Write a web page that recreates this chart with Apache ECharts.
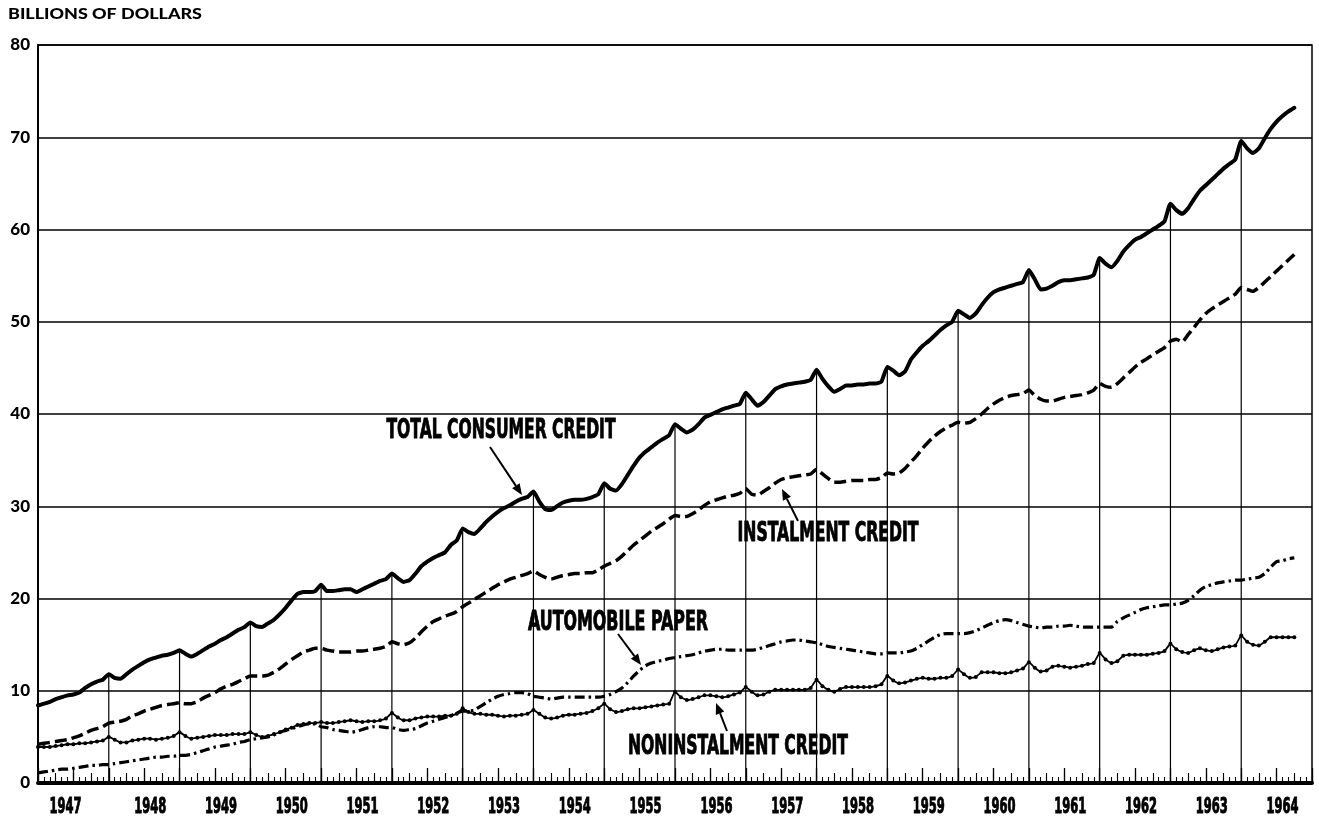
<!DOCTYPE html>
<html>
<head>
<meta charset="utf-8">
<title>Consumer credit 1947-1964</title>
<script src="https://cdn.jsdelivr.net/npm/echarts@6/dist/echarts.min.js"></script>
<style>
  html, body { margin: 0; padding: 0; background: #fff; }
  #chart { width: 1319px; height: 821px; }
</style>
</head>
<body>
<div id="chart"></div>
<script>
// month index 0 = Dec 1946, 12 = Dec 1947, ... last = Sep 1964
const firstYear = 1947
const yTicks = [0, 10, 20, 30, 40, 50, 60, 70, 80]
const years = [1947, 1948, 1949, 1950, 1951, 1952, 1953, 1954, 1955, 1956, 1957, 1958, 1959, 1960, 1961, 1962, 1963, 1964]

const totalCredit = [
  8.4,
  8.6, 8.8, 9.1, 9.3, 9.5, 9.6, 9.8, 10.3, 10.7, 11.0, 11.2, 11.8,      // 1947
  11.4, 11.3, 11.8, 12.3, 12.7, 13.1, 13.4, 13.6, 13.8, 13.9, 14.1, 14.4, // 1948
  14.0, 13.7, 14.0, 14.4, 14.8, 15.1, 15.5, 15.8, 16.2, 16.6, 16.9, 17.4, // 1949
  17.0, 16.9, 17.3, 17.7, 18.3, 19.0, 19.8, 20.5, 20.7, 20.7, 20.8, 21.5, // 1950
  20.8, 20.8, 20.9, 21.0, 21.0, 20.7, 21.0, 21.3, 21.6, 21.9, 22.1, 22.7, // 1951
  22.2, 21.8, 22.0, 22.7, 23.5, 24.0, 24.4, 24.7, 25.0, 25.8, 26.3, 27.6, // 1952
  27.2, 27.0, 27.6, 28.3, 28.9, 29.4, 29.8, 30.1, 30.5, 30.8, 31.0, 31.6, // 1953
  30.5, 29.7, 29.6, 30.0, 30.4, 30.6, 30.7, 30.7, 30.8, 31.0, 31.3, 32.5, // 1954
  31.9, 31.7, 32.4, 33.4, 34.4, 35.3, 35.9, 36.4, 36.9, 37.3, 37.7, 38.9, // 1955
  38.4, 38.0, 38.3, 38.9, 39.6, 39.9, 40.2, 40.5, 40.7, 40.9, 41.1, 42.3, // 1956
  41.6, 40.9, 41.3, 42.0, 42.7, 43.0, 43.2, 43.3, 43.4, 43.5, 43.7, 44.8, // 1957
  43.8, 43.0, 42.4, 42.7, 43.1, 43.1, 43.2, 43.2, 43.3, 43.3, 43.5, 45.1, // 1958
  44.7, 44.2, 44.6, 45.9, 46.7, 47.4, 47.9, 48.5, 49.1, 49.6, 50.0, 51.2, // 1959
  50.8, 50.4, 50.9, 51.8, 52.6, 53.2, 53.5, 53.7, 53.9, 54.1, 54.3, 55.6, // 1960
  54.6, 53.5, 53.6, 53.9, 54.3, 54.5, 54.5, 54.6, 54.7, 54.8, 55.1, 56.9, // 1961
  56.3, 55.9, 56.6, 57.6, 58.3, 58.9, 59.2, 59.6, 60.0, 60.4, 60.9, 62.8, // 1962
  62.1, 61.7, 62.3, 63.3, 64.2, 64.8, 65.4, 66.0, 66.6, 67.1, 67.6, 69.6, // 1963
  68.8, 68.3, 68.8, 69.9, 70.9, 71.7, 72.3, 72.8, 73.2                    // 1964
]

const instalmentCredit = [
  4.2,
  4.3, 4.4, 4.5, 4.6, 4.7, 4.9, 5.1, 5.4, 5.7, 5.9, 6.1, 6.5,
  6.6, 6.7, 6.9, 7.3, 7.5, 7.8, 8.0, 8.2, 8.4, 8.5, 8.6, 8.7,
  8.6, 8.6, 8.8, 9.2, 9.5, 9.8, 10.2, 10.5, 10.7, 11.0, 11.3, 11.6,
  11.6, 11.6, 11.7, 12.0, 12.4, 12.9, 13.4, 13.8, 14.2, 14.4, 14.6, 14.6,
  14.4, 14.3, 14.2, 14.2, 14.2, 14.3, 14.3, 14.4, 14.5, 14.6, 14.8, 15.3,
  15.1, 15.0, 15.2, 15.7, 16.4, 17.0, 17.5, 17.8, 18.1, 18.3, 18.6, 19.1,
  19.5, 19.9, 20.3, 20.7, 21.1, 21.5, 21.8, 22.1, 22.3, 22.5, 22.7, 23.0,
  22.6, 22.3, 22.1, 22.3, 22.5, 22.6, 22.7, 22.7, 22.8, 22.8, 23.1, 23.5,
  23.8, 24.1, 24.6, 25.2, 25.8, 26.3, 26.8, 27.3, 27.7, 28.1, 28.6, 29.0,
  28.9, 28.9, 29.2, 29.6, 30.1, 30.5, 30.7, 30.9, 31.1, 31.2, 31.4, 31.9,
  31.3, 31.2, 31.6, 32.0, 32.5, 32.9, 33.1, 33.2, 33.3, 33.4, 33.5, 34.0,
  33.5, 33.0, 32.6, 32.6, 32.7, 32.8, 32.8, 32.8, 32.9, 32.9, 33.1, 33.6,
  33.5, 33.6, 34.1, 34.8, 35.5, 36.3, 37.0, 37.6, 38.1, 38.5, 38.8, 39.1,
  39.0, 39.1, 39.5, 40.0, 40.6, 41.1, 41.5, 41.8, 42.0, 42.1, 42.2, 42.6,
  42.0, 41.6, 41.4, 41.4, 41.6, 41.8, 41.9, 42.0, 42.1, 42.3, 42.6, 43.3,
  43.0, 42.9, 43.3, 43.9, 44.5, 45.1, 45.6, 46.0, 46.4, 46.8, 47.2, 47.9,
  48.1, 47.8, 48.6, 49.4, 50.2, 50.9, 51.4, 51.8, 52.2, 52.6, 53.0, 53.7,
  53.5, 53.3, 53.7, 54.3, 54.9, 55.5, 56.1, 56.7, 57.3
]

const automobilePaper = [
  1.1,
  1.2, 1.3, 1.4, 1.5, 1.5, 1.6, 1.7, 1.8, 1.9, 1.9, 2.0, 2.0,
  2.1, 2.2, 2.3, 2.4, 2.5, 2.6, 2.7, 2.8, 2.8, 2.9, 2.9, 3.0,
  3.0, 3.1, 3.3, 3.5, 3.7, 3.9, 4.0, 4.1, 4.2, 4.4, 4.5, 4.7,
  4.8, 4.9, 5.0, 5.2, 5.5, 5.7, 5.9, 6.1, 6.3, 6.4, 6.4, 6.1,
  6.0, 5.8, 5.7, 5.6, 5.5, 5.6, 5.8, 6.0, 6.1, 6.1, 6.0, 6.0,
  5.8, 5.7, 5.8, 5.9, 6.2, 6.5, 6.7, 6.9, 7.1, 7.3, 7.6, 7.8,
  7.8, 7.9, 8.3, 8.7, 9.1, 9.4, 9.6, 9.7, 9.8, 9.8, 9.7, 9.4,
  9.3, 9.2, 9.1, 9.2, 9.3, 9.3, 9.3, 9.3, 9.3, 9.3, 9.3, 9.4,
  9.6, 9.9, 10.3, 10.9, 11.6, 12.2, 12.7, 13.0, 13.2, 13.3, 13.5, 13.6,
  13.7, 13.8, 13.9, 14.1, 14.3, 14.4, 14.5, 14.5, 14.4, 14.4, 14.4, 14.4,
  14.4, 14.5, 14.7, 14.9, 15.1, 15.3, 15.4, 15.5, 15.5, 15.4, 15.3, 15.2,
  15.0, 14.8, 14.7, 14.6, 14.5, 14.4, 14.3, 14.2, 14.1, 14.0, 14.0, 14.1,
  14.1, 14.1, 14.2, 14.3, 14.6, 15.0, 15.4, 15.8, 16.1, 16.2, 16.2, 16.2,
  16.2, 16.3, 16.5, 16.8, 17.1, 17.4, 17.6, 17.7, 17.6, 17.4, 17.2, 17.0,
  16.9, 16.8, 16.9, 16.9, 17.0, 17.0, 17.1, 17.0, 16.9, 16.9, 16.9, 16.9,
  16.9, 16.9, 17.5, 17.9, 18.2, 18.5, 18.8, 19.0, 19.1, 19.2, 19.3, 19.3,
  19.4, 19.5, 19.8, 20.3, 20.9, 21.3, 21.5, 21.7, 21.8, 21.9, 22.0, 22.0,
  22.1, 22.2, 22.3, 22.7, 23.4, 24.0, 24.1, 24.3, 24.4
]

const noninstalmentCredit = [
  3.9,
  3.9, 3.9, 4.0, 4.1, 4.2, 4.2, 4.3, 4.3, 4.4, 4.5, 4.6, 5.0,
  4.7, 4.4, 4.4, 4.6, 4.7, 4.8, 4.8, 4.7, 4.8, 4.9, 5.1, 5.5,
  5.1, 4.8, 4.9, 5.0, 5.1, 5.2, 5.2, 5.2, 5.3, 5.3, 5.3, 5.5,
  5.2, 5.0, 5.1, 5.3, 5.5, 5.8, 6.0, 6.3, 6.4, 6.5, 6.5, 6.6,
  6.5, 6.5, 6.6, 6.7, 6.8, 6.7, 6.6, 6.7, 6.7, 6.8, 7.0, 7.6,
  7.1, 6.8, 6.8, 7.0, 7.1, 7.2, 7.2, 7.2, 7.3, 7.3, 7.5, 8.1,
  7.7, 7.5, 7.5, 7.4, 7.4, 7.3, 7.2, 7.3, 7.3, 7.4, 7.5, 7.9,
  7.5, 7.1, 7.0, 7.1, 7.3, 7.4, 7.4, 7.5, 7.6, 7.8, 8.1, 8.6,
  8.0, 7.7, 7.8, 8.0, 8.1, 8.1, 8.2, 8.3, 8.4, 8.5, 8.6, 9.9,
  9.3, 9.0, 9.1, 9.3, 9.5, 9.5, 9.4, 9.3, 9.4, 9.6, 9.8, 10.4,
  9.9, 9.5, 9.6, 9.9, 10.1, 10.1, 10.1, 10.1, 10.1, 10.1, 10.3, 11.2,
  10.5, 10.1, 9.9, 10.2, 10.4, 10.4, 10.4, 10.4, 10.4, 10.5, 10.7, 11.6,
  11.1, 10.8, 10.9, 11.1, 11.3, 11.4, 11.3, 11.3, 11.4, 11.4, 11.6, 12.3,
  11.8, 11.4, 11.5, 12.0, 12.0, 12.0, 11.9, 11.9, 12.0, 12.2, 12.4, 13.1,
  12.5, 12.1, 12.2, 12.6, 12.7, 12.6, 12.5, 12.6, 12.7, 12.9, 13.0, 14.1,
  13.4, 13.0, 13.2, 13.8, 13.9, 13.9, 13.9, 13.9, 14.0, 14.1, 14.3, 15.1,
  14.5, 14.2, 14.1, 14.4, 14.6, 14.4, 14.3, 14.5, 14.7, 14.8, 14.9, 16.0,
  15.3, 15.0, 14.9, 15.3, 15.8, 15.8, 15.8, 15.8, 15.8
]

// year-end months that get a vertical rule up to the total line
const yearEnds = [12, 24, 36, 48, 60, 72, 84, 96, 108, 120, 132, 144, 156, 168, 180, 192, 204]

const GEO = 'Lato, "DejaVu Sans", sans-serif'
const NARROW = '"Liberation Sans Narrow", "DejaVu Sans Condensed", "Roboto Condensed", sans-serif'

const toPairs = arr => arr.map((v, i) => [i, v])

// measure text so condensed labels can be squeezed to the reference width
const measureCtx = document.createElement('canvas').getContext('2d')
const textWidth = (text, font) => { measureCtx.font = font; return measureCtx.measureText(text).width }

const label = (text, cx, cy, targetW, size) => {
  const font = 'bold ' + size + 'px ' + NARROW
  const w = textWidth(text, font)
  return {
    type: 'text', x: cx, y: cy, scaleX: targetW / w, z: 10,
    style: { text, font, fill: '#000', stroke: '#000', lineWidth: 0.9, align: 'center', verticalAlign: 'middle' }
  }
}

const arrow = (x1, y1, x2, y2) => {
  const a = Math.atan2(y2 - y1, x2 - x1), L = 11, W = 4.5
  const bx = x2 - L * Math.cos(a), by = y2 - L * Math.sin(a)
  return [
    { type: 'line', z: 10, shape: { x1, y1, x2: bx, y2: by }, style: { stroke: '#000', lineWidth: 2 } },
    { type: 'polygon', z: 10, shape: { points: [[x2, y2], [bx + W * Math.sin(a), by - W * Math.cos(a)], [bx - W * Math.sin(a), by + W * Math.cos(a)]] }, style: { fill: '#000' } }
  ]
}

const yearFont = 'bold 22px ' + NARROW
const yearScale = 32 / textWidth('1947', yearFont)
const titleFont = '900 15px ' + GEO
const titleScale = 194 / textWidth('BILLIONS OF DOLLARS', titleFont)

const chart = echarts.init(document.getElementById('chart'))

const option = {
  animation: false,
  backgroundColor: '#fff',
  grid: { left: 38, right: 7, top: 45, bottom: 38, show: true, borderColor: '#000', borderWidth: 1.5 },
  xAxis: [
    {
      type: 'value', min: 0, max: 216, interval: 6,
      axisLine: { show: true, lineStyle: { color: '#000', width: 4 } },
      axisTick: { show: true, inside: true, length: 15, lineStyle: { color: '#000', width: 1.3 } },
      minorTick: { show: true, splitNumber: 6, length: 6, lineStyle: { color: '#000', width: 1.1 } },
      splitLine: { show: false },
      axisLabel: { show: false }
    },
    {
      type: 'value', min: 0, max: 216, interval: 3, position: 'bottom',
      axisLine: { show: false },
      axisTick: { show: true, inside: true, length: 10, lineStyle: { color: '#000', width: 1.1 } },
      splitLine: { show: false },
      axisLabel: { show: false }
    }
  ],
  yAxis: {
    type: 'value', min: yTicks[0], max: yTicks[yTicks.length - 1], interval: 10,
    axisLine: { show: true, lineStyle: { color: '#000', width: 2 } },
    axisTick: { show: false },
    splitLine: { show: true, lineStyle: { color: '#000', width: 1.5 } },
    axisLabel: { margin: 8, color: '#000', fontFamily: GEO, fontWeight: 900, fontSize: 17 }
  },
  graphic: [
    { type: 'text', x: 8, y: 7, z: 10, scaleX: titleScale, style: { text: 'BILLIONS OF DOLLARS', font: titleFont, fill: '#000' } },
    label('TOTAL CONSUMER CREDIT', 501, 431, 229, 27),
    label('INSTALMENT CREDIT', 828, 534, 181, 27),
    label('AUTOMOBILE PAPER', 618, 623, 180, 27),
    label('NONINSTALMENT CREDIT', 738, 747, 220, 27),
    ...arrow(490, 447, 522, 495),
    ...arrow(798, 521, 782, 489),
    ...arrow(618, 634, 641, 665),
    ...arrow(727, 731, 716, 703)
  ],
  series: [
    {
      name: 'year ends', type: 'custom', z: 1,
      data: yearEnds.map(i => [i, totalCredit[i]]),
      renderItem: (params, api) => {
        const top = api.coord([api.value(0), api.value(1)])
        const bottom = api.coord([api.value(0), 0])
        return { type: 'line', shape: { x1: top[0], y1: top[1], x2: bottom[0], y2: bottom[1] }, style: { stroke: '#000', lineWidth: 1.2 } }
      }
    },
    {
      // year labels under the axis, centred a little right of mid-year as in the original
      name: 'years', type: 'custom', z: 3, clip: false,
      data: years.map(y => [(y - firstYear) * 12 + 6, y]),
      renderItem: (params, api) => {
        const p = api.coord([api.value(0), 0])
        return {
          type: 'text', x: p[0] + (params.dataIndex === 0 ? -8 : 6), y: p[1] + 24, scaleX: yearScale,
          style: { text: String(api.value(1)), font: yearFont, fill: '#000', stroke: '#000', lineWidth: 1, align: 'center', verticalAlign: 'middle' }
        }
      }
    },
    {
      name: 'Total consumer credit', type: 'line', z: 5, showSymbol: false, smooth: 0.15,
      data: toPairs(totalCredit),
      lineStyle: { color: '#000', width: 4, cap: 'round', join: 'round' }
    },
    {
      name: 'Instalment credit', type: 'line', z: 4, showSymbol: false, smooth: 0.15,
      data: toPairs(instalmentCredit),
      lineStyle: { color: '#000', width: 3.5, type: [12, 5] }
    },
    {
      name: 'Automobile paper', type: 'line', z: 4, showSymbol: false, smooth: 0.15,
      data: toPairs(automobilePaper),
      lineStyle: { color: '#000', width: 3.2, type: [10, 4, 2.5, 4] }
    },
    {
      name: 'Noninstalment credit', type: 'line', z: 4, smooth: 0.1,
      showSymbol: true, symbol: 'circle', symbolSize: 4,
      itemStyle: { color: '#000' },
      data: toPairs(noninstalmentCredit),
      lineStyle: { color: '#000', width: 1.8 }
    }
  ]
}

chart.setOption(option)
</script>
</body>
</html>
